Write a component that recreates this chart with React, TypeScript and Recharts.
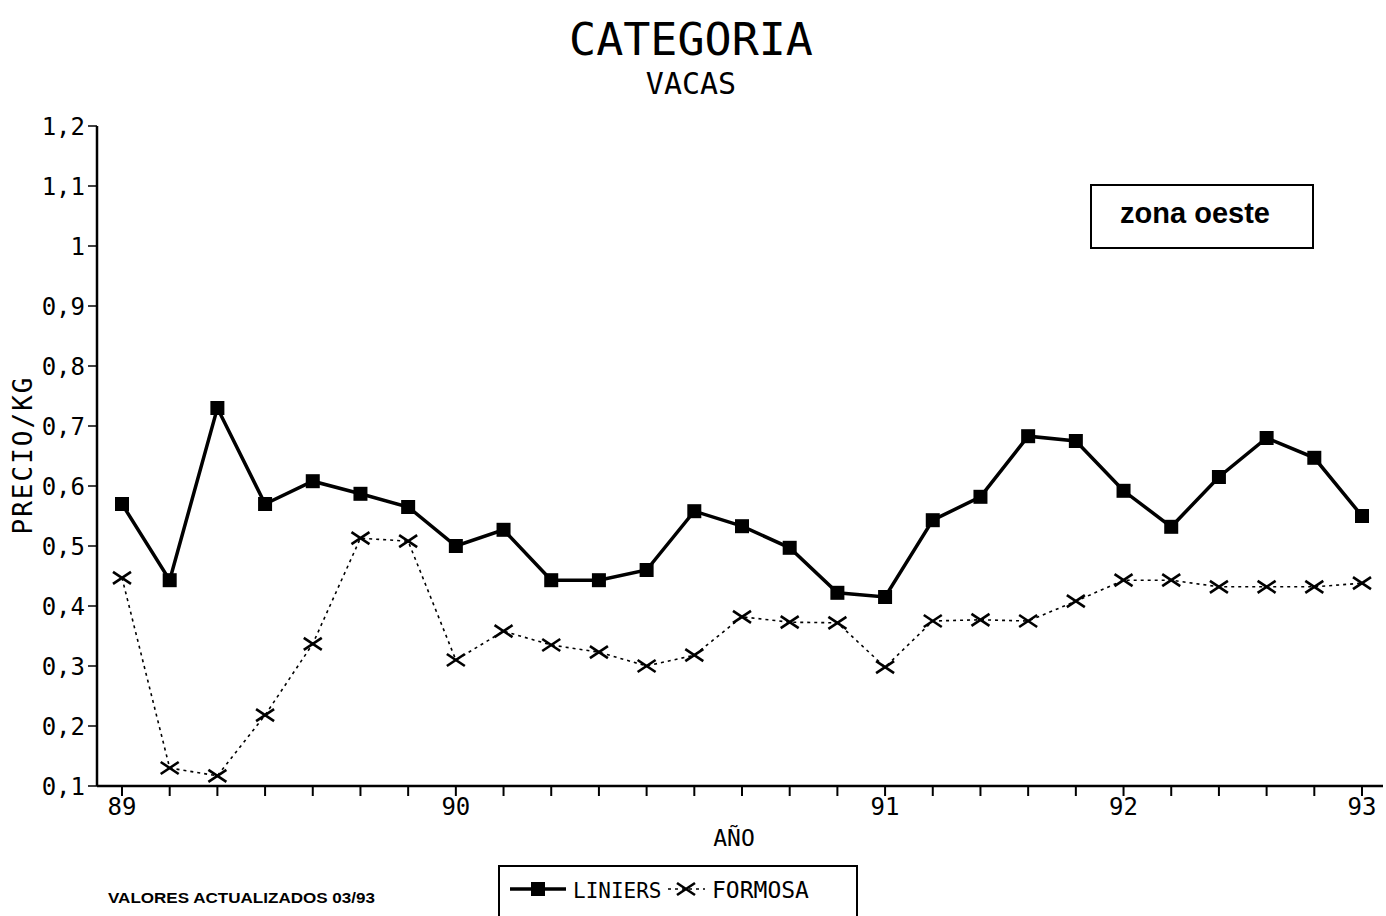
import React from 'react';
import { LineChart, Line, XAxis, YAxis } from 'recharts';

const periods = ['89', '', '', '', '', '', '', '90', '', '', '', '', '', '', '', '', '91', '', '', '', '', '92', '', '', '', '', '93'];
const liniers = [0.57, 0.443, 0.73, 0.57, 0.608, 0.587, 0.565, 0.5, 0.527, 0.443, 0.443, 0.46, 0.558, 0.533, 0.497, 0.422, 0.415, 0.543, 0.582, 0.683, 0.675, 0.592, 0.532, 0.615, 0.68, 0.647, 0.55];
const formosa = [0.447, 0.13, 0.117, 0.218, 0.337, 0.513, 0.508, 0.31, 0.358, 0.335, 0.323, 0.3, 0.318, 0.382, 0.373, 0.372, 0.298, 0.375, 0.377, 0.375, 0.408, 0.443, 0.443, 0.432, 0.432, 0.432, 0.438];
const yTicks = [0.1, 0.2, 0.3, 0.4, 0.5, 0.6, 0.7, 0.8, 0.9, 1.0, 1.1, 1.2];
const seriesNames = ['LINIERS', 'FORMOSA'];

const data = periods.map((p, i) => ({ i, label: p, liniers: liniers[i], formosa: formosa[i] }));

const MONO = '"DejaVu Sans Mono", monospace';
const SANS = '"Liberation Sans", Arial, sans-serif';

const fmtY = (v: number) => {
  const s = v.toFixed(1);
  return s.endsWith('.0') ? s.slice(0, -2) : s.replace('.', ',');
};

const SquareDot = (props: any) => {
  const { cx, cy, index } = props;
  if (cx == null || cy == null) return <g key={`s-${index}`} />;
  return <rect key={`s-${index}`} x={cx - 7} y={cy - 7} width={14} height={14} fill="#000" />;
};

const CrossDot = (props: any) => {
  const { cx, cy, index } = props;
  if (cx == null || cy == null) return <g key={`c-${index}`} />;
  return (
    <g key={`c-${index}`}>
      <line x1={cx - 9} y1={cy - 6} x2={cx + 9} y2={cy + 6} stroke="#000" strokeWidth={2.6} />
      <line x1={cx - 9} y1={cy + 6} x2={cx + 9} y2={cy - 6} stroke="#000" strokeWidth={2.6} />
    </g>
  );
};

export default function App() {
  return (
    <div style={{ position: 'absolute', left: 0, top: 0, width: 1386, height: 916, background: '#fff', overflow: 'hidden' }}>
      <LineChart
        width={1386}
        height={916}
        data={data}
        margin={{ top: 126, left: 37, right: 3, bottom: 100 }}
      >
        <XAxis
          dataKey="i"
          type="category"
          interval={0}
          padding={{ left: 25, right: 21 }}
          height={30}
          tickFormatter={(v: any) => periods[v]}
          tickSize={10}
          tickMargin={2}
          axisLine={{ stroke: '#000', strokeWidth: 2.5 }}
          tickLine={{ stroke: '#000', strokeWidth: 2 }}
          tick={{ fill: '#000', fontSize: 24, fontFamily: MONO }}
        />
        <XAxis
          xAxisId="top"
          orientation="top"
          dataKey="i"
          type="category"
          height={0}
          padding={{ left: 25, right: 21 }}
          tick={false}
          tickLine={false}
          axisLine={{ stroke: '#000', strokeWidth: 2 }}
        />
        <YAxis
          domain={[0.1, 1.2]}
          ticks={yTicks}
          type="number"
          width={60}
          interval={0}
          tickFormatter={fmtY}
          tickSize={9}
          tickMargin={3}
          axisLine={{ stroke: '#000', strokeWidth: 2.5 }}
          tickLine={{ stroke: '#000', strokeWidth: 1.5 }}
          tick={{ fill: '#000', fontSize: 24, fontFamily: MONO }}
        />
        <YAxis
          yAxisId="r"
          orientation="right"
          domain={[0.1, 1.2]}
          type="number"
          width={0}
          tick={false}
          tickLine={false}
          axisLine={{ stroke: '#000', strokeWidth: 1 }}
        />
        <Line
          dataKey="liniers"
          name={seriesNames[0]}
          stroke="#000"
          strokeWidth={3.5}
          dot={SquareDot}
          isAnimationActive={false}
        />
        <Line
          dataKey="formosa"
          name={seriesNames[1]}
          stroke="#000"
          strokeWidth={1.6}
          strokeDasharray="3 4"
          dot={CrossDot}
          isAnimationActive={false}
        />
      </LineChart>
      <svg width={1386} height={916} style={{ position: 'absolute', left: 0, top: 0, pointerEvents: 'none' }}>
        <text x={691} y={55} textAnchor="middle" fontFamily={MONO} fontSize={45} fill="#000">CATEGORIA</text>
        <text x={691} y={94} textAnchor="middle" fontFamily={MONO} fontSize={30} fill="#000">VACAS</text>
        <text transform="translate(32,455) rotate(-90)" textAnchor="middle" fontFamily={MONO} fontSize={26} letterSpacing={2} fill="#000">PRECIO/KG</text>
        <text x={734} y={846} textAnchor="middle" fontFamily={MONO} fontSize={23} fill="#000">AÑO</text>
        <rect x={1091} y={185} width={222} height={63} fill="#fff" stroke="#000" strokeWidth={2} />
        <text x={1195} y={223} textAnchor="middle" fontFamily={SANS} fontWeight="bold" fontSize={29} fill="#000">zona oeste</text>
        <text x={108} y={903} fontFamily={SANS} fontWeight="bold" fontSize={14} textLength={267} lengthAdjust="spacingAndGlyphs" fill="#000">VALORES ACTUALIZADOS 03/93</text>
        <rect x={499} y={866} width={358} height={70} fill="#fff" stroke="#000" strokeWidth={2} />
        <line x1={510} y1={889} x2={566} y2={889} stroke="#000" strokeWidth={3.5} />
        <rect x={531} y={882} width={14} height={14} fill="#000" />
        <text x={573} y={898} fontFamily={MONO} fontSize={21} fill="#000">{seriesNames[0]}</text>
        <line x1={668} y1={889} x2={705} y2={889} stroke="#000" strokeWidth={1.6} strokeDasharray="3 4" />
        <line x1={677} y1={883} x2={695} y2={895} stroke="#000" strokeWidth={2.6} />
        <line x1={677} y1={895} x2={695} y2={883} stroke="#000" strokeWidth={2.6} />
        <text x={712} y={898} fontFamily={MONO} fontSize={23} fill="#000">{seriesNames[1]}</text>
      </svg>
    </div>
  );
}
